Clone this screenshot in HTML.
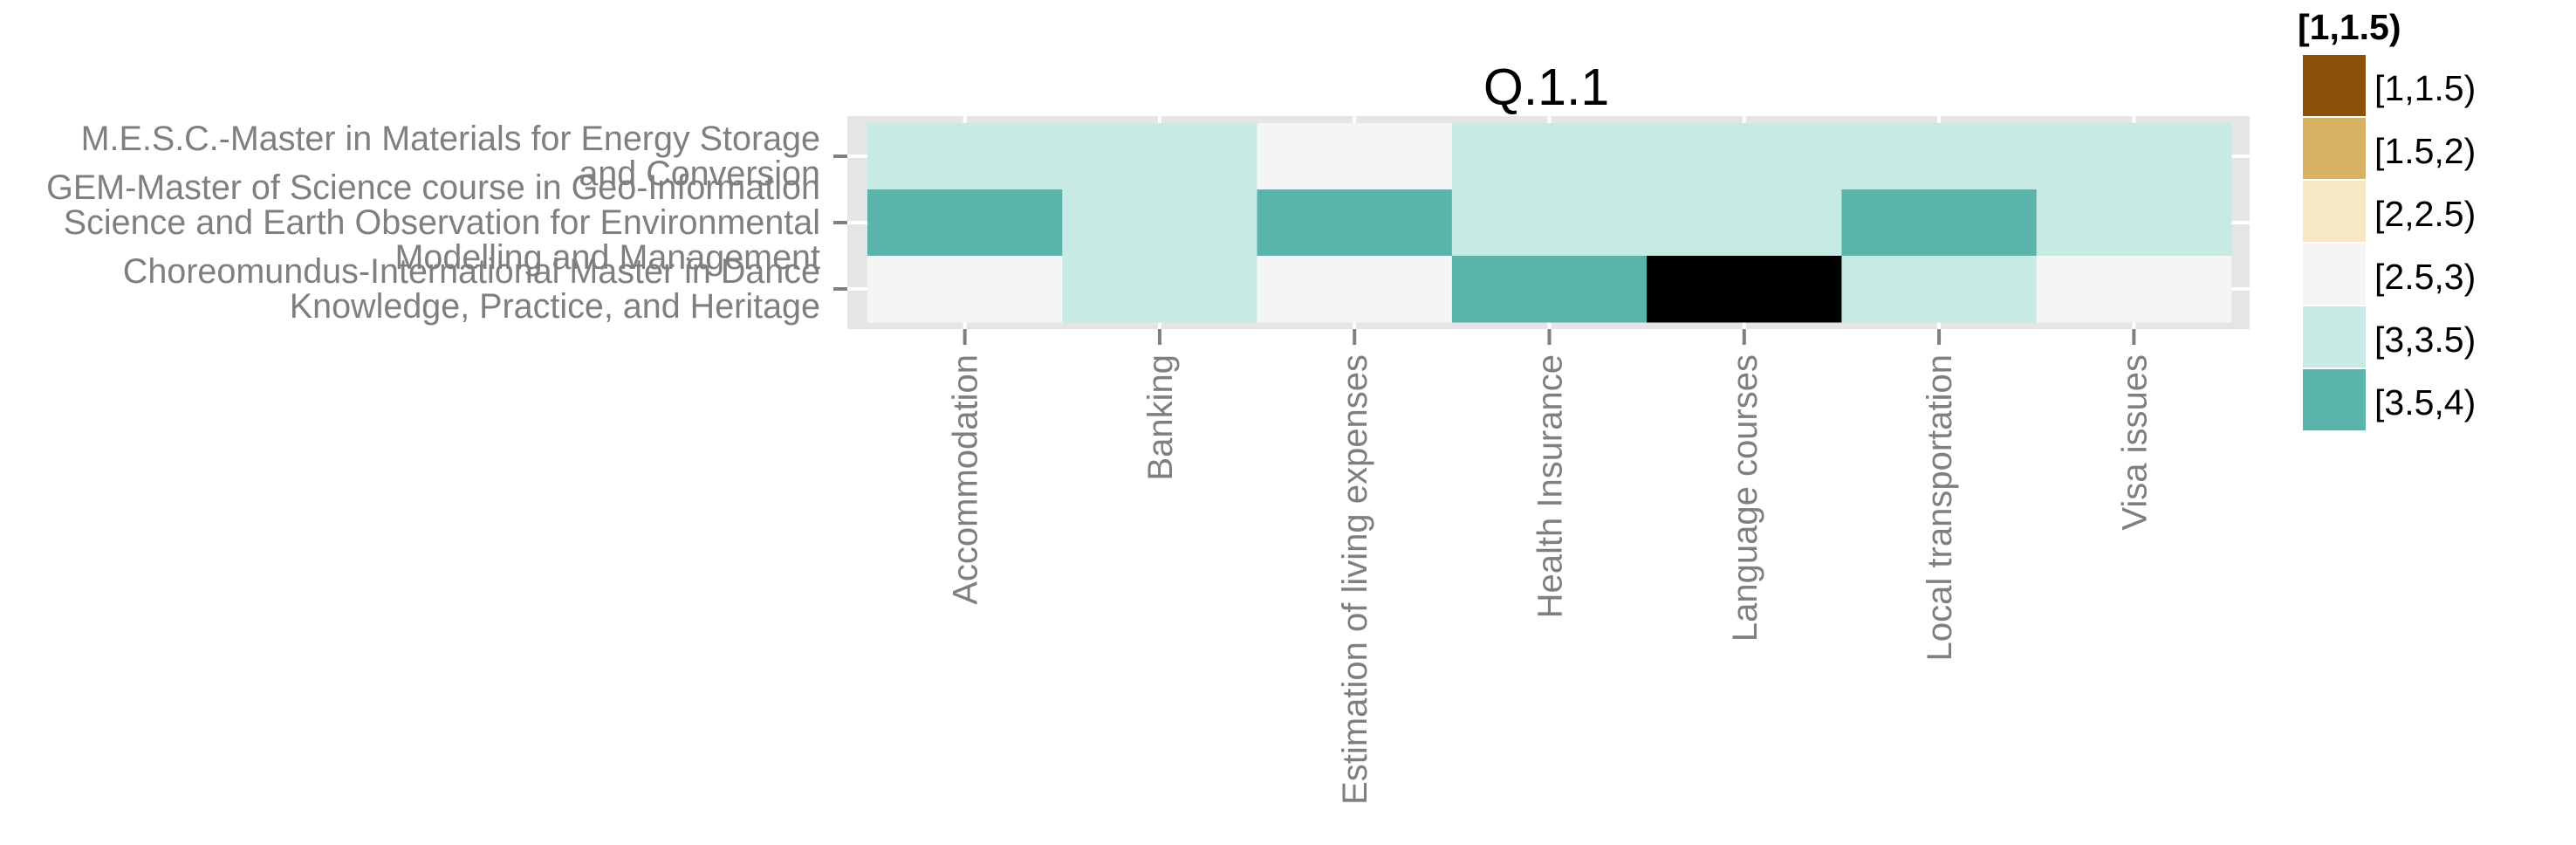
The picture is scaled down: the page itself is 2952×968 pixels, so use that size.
<!DOCTYPE html>
<html><head><meta charset="utf-8"><style>
html,body{margin:0;padding:0;background:#fff;}
svg{display:block;font-family:"Liberation Sans",Arial,sans-serif;}
</style></head><body>
<svg id="chart" width="2952" height="968" viewBox="0 0 2952 968" xmlns="http://www.w3.org/2000/svg">
<text x="1772" y="120" font-size="59" text-anchor="middle" fill="#000">Q.1.1</text>
<rect x="971" y="133" width="1607" height="244" fill="#e5e5e5"/>
<g id="grid"></g>
<g id="cells"></g>
<g id="yaxis"></g>
<g id="xaxis"></g>
<g id="legend"></g>
</svg>
<script>
const categories = ["Accommodation","Banking","Estimation of living expenses","Health Insurance","Language courses","Local transportation","Visa issues"];
const programmes = [
  ["M.E.S.C.-Master in Materials for Energy Storage","and Conversion"],
  ["GEM-Master of Science course in Geo-Information","Science and Earth Observation for Environmental","Modelling and Management"],
  ["Choreomundus-International Master in Dance","Knowledge, Practice, and Heritage"]
];
const valuesMESC = [3.2,3.2,2.8,3.2,3.2,3.2,3.2];
const valuesGEM = [3.7,3.2,3.7,3.2,3.2,3.7,3.2];
const valuesChoreo = [2.8,3.2,2.8,3.7,null,3.2,2.8];
const legendLabels = ["[1,1.5)","[1.5,2)","[2,2.5)","[2.5,3)","[3,3.5)","[3.5,4)"];
const legendBreaks = [1,1.5,2,2.5,3,3.5,4];
const legendColors = ["#8c510a","#d8b365","#f6e8c3","#f5f5f5","#c7eae5","#5ab4ac"];

const NS="http://www.w3.org/2000/svg";
const series=[valuesMESC,valuesGEM,valuesChoreo];
const X0=994,X1=2557,Y0=141,Y1=369;
const cw=(X1-X0)/categories.length, rh=(Y1-Y0)/programmes.length;
const xScale=i=>X0+i*cw;
const yScale=j=>Y0+j*rh;
function colorFor(v){
  if(v===null||v===undefined)return "#000000";
  for(let k=0;k<legendColors.length;k++){if(v>=legendBreaks[k]&&v<legendBreaks[k+1])return legendColors[k];}
  return legendColors[legendColors.length-1];
}
function mk(tag,attrs,parent){const e=document.createElementNS(NS,tag);for(const k in attrs)e.setAttribute(k,attrs[k]);parent.appendChild(e);return e;}
const grid=document.getElementById('grid'),cells=document.getElementById('cells'),ya=document.getElementById('yaxis'),xa=document.getElementById('xaxis'),lg=document.getElementById('legend');
programmes.forEach((p,j)=>{
  const cy=yScale(j)+rh/2;
  const g=mk('line',{x1:971,x2:2578,y1:cy,y2:cy,stroke:'#fff','stroke-width':4},grid);
  
  
  const t=mk('line',{x1:955,x2:971,y1:cy,y2:cy,stroke:'#7f7f7f','stroke-width':4},ya);
  
  
  const n=p.length;
  p.forEach((line,k)=>{
    const tx=mk('text',{x:940,y:cy+13+(k-(n-1)/2)*40,'font-size':39.5,'text-anchor':'end',fill:'#7f7f7f'},ya);
    tx.textContent=line;
    
    
  });
});
categories.forEach((c,i)=>{
  const cx=xScale(i)+cw/2;
  const g=mk('line',{x1:cx,x2:cx,y1:133,y2:377,stroke:'#fff','stroke-width':4},grid);
  
  
  const t=mk('line',{x1:cx,x2:cx,y1:377,y2:395,stroke:'#7f7f7f','stroke-width':4},xa);
  
  
  const tx=mk('text',{x:0,y:0,'font-size':40,'text-anchor':'end',fill:'#7f7f7f',transform:`translate(${cx+14},406) rotate(-90)`},xa);
  tx.textContent=c;
  
  
});
series.forEach((row,j)=>{
  row.forEach((v,i)=>{
    const r=mk('rect',{x:xScale(i),y:yScale(j),width:cw+0.5,height:rh+0.5,fill:colorFor(v)},cells);
    
    
  });
});
const lt=mk('text',{x:2633,y:45,'font-size':41,'font-weight':'bold',fill:'#000'},lg);
lt.textContent=legendLabels[0];


legendLabels.forEach((l,k)=>{
  const y=63+k*72;
  const s=mk('rect',{x:2639,y:y,width:72,height:70,fill:legendColors[k]},lg);
  
  
  const t=mk('text',{x:2721,y:y+52,'font-size':41,fill:'#000'},lg);
  t.textContent=l;
  
  
});
</script>
</body></html>
